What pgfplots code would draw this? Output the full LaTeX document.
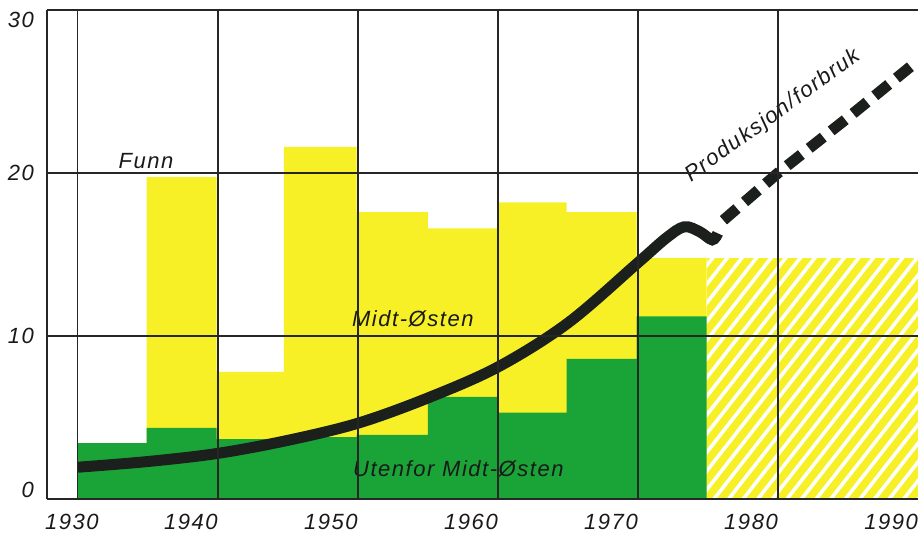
\documentclass[border=0pt]{standalone}
\usepackage{fontspec}
\setmainfont{Liberation Sans}[LetterSpace=7]
\usepackage{pgfplots}
\pgfplotsset{compat=1.18}
\usetikzlibrary{patterns.meta}

\definecolor{gul}{RGB}{247,240,38}
\definecolor{gronn}{RGB}{26,164,56}
\definecolor{svart}{RGB}{28,32,28}

\begin{document}
\begin{tikzpicture}
\begin{axis}[
  scale only axis,
  width=871pt, height=489pt,
  xmin=1927.79, xmax=1990,
  ymin=0, ymax=30,
  axis lines*=left,
  axis line style={-, line width=1.4pt, black!85},
  xtick={1930,1940,...,1990},
  minor xtick={1930,1940,...,1980},
  ytick={0,10,20,30},
  xminorgrids, ymajorgrids,
  major grid style={line width=1.1pt, black!85},
  minor grid style={line width=1.1pt, black!85},
  major tick length=0pt, minor tick length=0pt,
  axis on top,
  /pgf/number format/assume math mode=true,
  /pgf/number format/1000 sep={},
  tick label style={font=\fontsize{22}{22}\selectfont\itshape, inner sep=0pt, text=black!90},
  xticklabel style={anchor=north east, yshift=-15pt, xshift={(\ticknum==0)*21}},
  yticklabel style={anchor=east, xshift=-13pt, yshift={(\ticknum==0)*9-(\ticknum==3)*10}},
]

% Funn totalt (gul) per femårsperiode
\addplot[const plot, fill=gul, draw=none] coordinates {
  (1930,3.43) (1934.9,19.75) (1939.9,7.8) (1944.7,21.6) (1949.9,17.6)
  (1955,16.6) (1960,18.2) (1964.9,17.6) (1969.9,14.8) (1974.9,14.8)
} \closedcycle;

% prognose, skravert
\addplot[fill=gul, draw=none,
  postaction={pattern={Lines[angle=52, distance=11.5pt, line width=3.6pt]}, pattern color=white}]
  coordinates {(1974.9,14.8) (1990,14.8)} \closedcycle;

% Utenfor Midt-Østen (grønn)
\addplot[const plot, fill=gronn, draw=none] coordinates {
  (1930,3.43) (1934.9,4.36) (1939.9,3.68) (1944.7,3.8) (1949.9,3.93)
  (1955,6.26) (1960,5.3) (1964.9,8.6) (1969.9,11.2) (1974.9,11.2)
} \closedcycle;

% produksjon/forbruk
\addplot[svart, line width=11pt, smooth, tension=0.55] coordinates {
  (1930,1.95) (1935,2.3) (1940,2.8) (1945,3.6) (1950,4.65) (1955,6.2)
  (1960,8.1) (1965,10.8) (1970,14.5) (1972,16.0) (1973.3,16.7)
  (1974.4,16.4) (1975.3,15.9) (1975.7,16.3)
};
\addplot[svart, line width=11pt, dash pattern=on 18pt off 10pt] coordinates {
  (1976.1,17.1) (1980,20.0) (1985,23.4) (1990,26.9)
};

\begin{scope}[every node/.style={font=\fontsize{22}{22}\selectfont\itshape, inner sep=0pt, text=black!90}]
\node[anchor=base west] at (axis cs:1932.9,20.25) {Funn};
\node[anchor=base west] at (axis cs:1949.57,10.61) {Midt-Østen};
\node[anchor=base west] at (axis cs:1949.64,1.41) {Utenfor Midt-Østen};
\node[anchor=base west, rotate=36] at (axis cs:1973.8,19.4) {Produksjon/forbruk};
\end{scope}
\end{axis}
\pgfresetboundingbox
\path[use as bounding box] (-47pt,-36pt) rectangle (871pt,499pt);
\end{tikzpicture}
\end{document}
